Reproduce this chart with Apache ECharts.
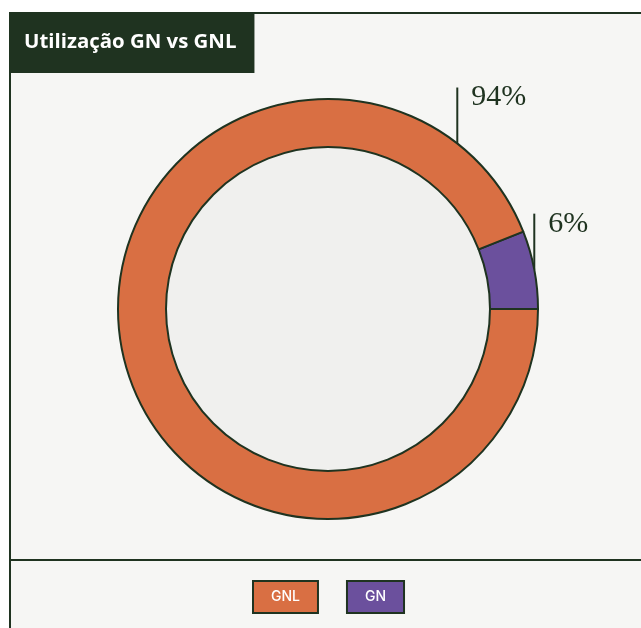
<!DOCTYPE html>
<html>
<head>
<meta charset="utf-8">
<script src="https://cdn.jsdelivr.net/npm/echarts@6/dist/echarts.min.js"></script>
<style>
html,body{margin:0;padding:0;background:#ffffff;}
#chart{width:641px;height:628px;}
</style>
</head>
<body>
<div id="chart"></div>
<script>
const titleText = 'Utilização GN vs GNL';
const categories = ['GN', 'GNL'];
const values = [6, 94];
const legendOrder = ['GNL', 'GN'];
const labelAnchorDeg = [10.8, 52];

const DARK = '#1f3320';
const COLORS = {GN: '#6b509d', GNL: '#d96f43'};
const CX = 328, CY = 309, R_IN = 162, R_OUT = 210;

const chart = echarts.init(document.getElementById('chart'), null, {renderer: 'canvas'});
const option = {
  backgroundColor: '#ffffff',
  animation: false,
  graphic: [
    {type: 'rect', z: 0, shape: {x: 10, y: 13, width: 700, height: 700},
     style: {fill: '#f6f6f4', stroke: DARK, lineWidth: 2}},
    {type: 'line', z: 1, shape: {x1: 10, y1: 560, x2: 641, y2: 560},
     style: {stroke: DARK, lineWidth: 2}},
    {type: 'circle', z: 1, shape: {cx: CX, cy: CY, r: R_IN},
     style: {fill: '#f0f0ee'}}
  ],
  title: {
    text: titleText,
    left: 9, top: 12,
    padding: [20, 18, 20, 15],
    backgroundColor: DARK,
    textStyle: {color: '#ffffff', fontFamily: 'Open Sans', fontWeight: 'bold', fontSize: 20.4, lineHeight: 21}
  },
  legend: {
    left: 243, top: 575,
    itemWidth: 0, itemHeight: 0, icon: 'rect', itemGap: 23,
    selectedMode: false,
    data: legendOrder.map(n => ({
      name: n,
      textStyle: {backgroundColor: COLORS[n], borderColor: DARK, borderWidth: 2,
                  padding: [8, 17, 7, 17], color: '#ffffff', fontFamily: 'Inter', fontWeight: 500, fontSize: 14, lineHeight: 15}
    }))
  },
  series: [{
    type: 'pie',
    center: [CX, CY],
    radius: [R_IN, R_OUT],
    startAngle: 0,
    clockwise: false,
    z: 3,
    itemStyle: {borderColor: DARK, borderWidth: 2},
    label: {
      show: true, position: 'outside',
      formatter: p => p.value + '%',
      color: DARK, fontFamily: 'Liberation Serif', fontSize: 30
    },
    labelLine: {show: true, lineStyle: {color: DARK, width: 2}, length: 10, length2: 10},
    labelLayout: function (p) {
      const a = labelAnchorDeg[p.dataIndex] * Math.PI / 180;
      const x0 = CX + R_OUT * Math.cos(a);
      const y0 = CY - R_OUT * Math.sin(a);
      const top = y0 - 56;
      return {
        x: x0 + 14, y: top - 5, align: 'left', verticalAlign: 'top',
        labelLinePoints: [[x0, y0], [x0, top], [x0, top]]
      };
    },
    data: categories.map((c, i) => ({name: c, value: values[i], itemStyle: {color: COLORS[c]}}))
  }]
};
chart.setOption(option);
</script>
</body>
</html>
